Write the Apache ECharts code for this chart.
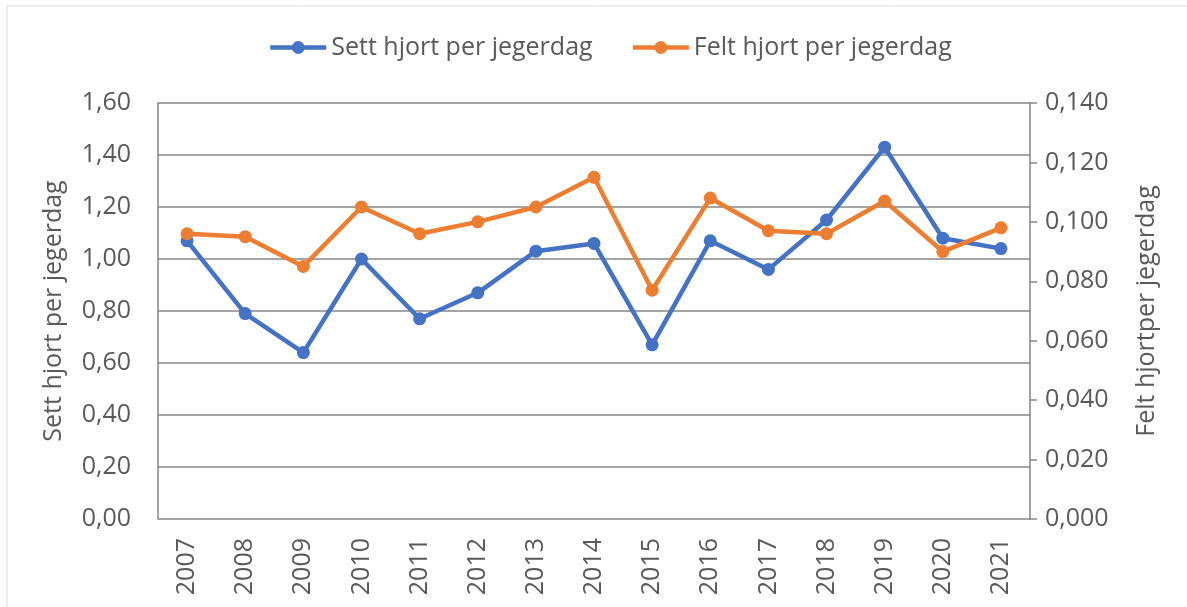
<!DOCTYPE html>
<html>
<head>
<meta charset="utf-8">
<script src="https://cdn.jsdelivr.net/npm/echarts@6/dist/echarts.min.js"></script>
<style>
  html, body { margin: 0; padding: 0; background: #fff; }
  #chart { width: 1187px; height: 607px; }
</style>
</head>
<body>
<div id="chart"></div>
<script>
  // år
  const years = ['2007', '2008', '2009', '2010', '2011', '2012', '2013', '2014', '2015', '2016', '2017', '2018', '2019', '2020', '2021']
  // sett hjort per jegerdag (venstre akse)
  const settHjort = [1.07, 0.79, 0.64, 1.00, 0.77, 0.87, 1.03, 1.06, 0.67, 1.07, 0.96, 1.15, 1.43, 1.08, 1.04]
  // felt hjort per jegerdag (høyre akse)
  const feltHjort = [0.096, 0.095, 0.085, 0.105, 0.096, 0.100, 0.105, 0.115, 0.077, 0.108, 0.097, 0.096, 0.107, 0.090, 0.098]

  const fontFam = '"Open Sans", sans-serif'
  const txt = '#595959'

  const myChart = echarts.init(document.getElementById('chart'))
  myChart.setOption({
    animation: false,
    textStyle: { fontFamily: fontFam, color: txt },
    graphic: [{
      type: 'rect',
      shape: { x: 7, y: 6, width: 1300, height: 700 },
      style: { fill: 'none', stroke: '#d9d9d9', lineWidth: 1 },
      z: -10, silent: true
    }],
    legend: {
      top: 30,
      left: 263,
      itemWidth: 56,
      itemHeight: 16,
      itemGap: 38,
      lineStyle: { width: 4.5 },
      textStyle: { fontSize: 25, color: txt, fontFamily: fontFam }
    },
    grid: { left: 158, right: 157, top: 103, bottom: 88 },
    xAxis: {
      type: 'category',
      data: years,
      axisTick: { show: false },
      axisLine: { show: false },
      axisLabel: { rotate: 90, fontSize: 25, color: txt, margin: 19 }
    },
    yAxis: [
      {
        type: 'value',
        min: 0, max: 1.6, interval: 0.2,
        name: 'Sett hjort per jegerdag',
        nameLocation: 'middle',
        nameRotate: 90,
        nameGap: 92,
        nameTextStyle: { fontSize: 25, color: txt },
        axisLine: { show: true, lineStyle: { color: '#868686', width: 1.5 } },
        axisTick: { show: false },
        splitLine: { lineStyle: { color: '#868686', width: 1.5 } },
        axisLabel: { fontSize: 25, color: txt, margin: 27, formatter: v => v.toFixed(2).replace('.', ',') }
      },
      {
        type: 'value',
        position: 'right',
        min: 0, max: 0.14, interval: 0.02,
        name: 'Felt hjortper jegerdag',
        nameLocation: 'middle',
        nameRotate: 90,
        nameGap: 104,
        nameTextStyle: { fontSize: 25, color: txt },
        axisLine: { show: true, lineStyle: { color: '#868686', width: 1.5 } },
        axisTick: { show: true, length: 7, lineStyle: { color: '#868686', width: 1.5 } },
        splitLine: { show: false },
        axisLabel: { fontSize: 25, color: txt, margin: 15, formatter: v => v.toFixed(3).replace('.', ',') }
      }
    ],
    series: [
      {
        name: 'Sett hjort per jegerdag',
        type: 'line',
        yAxisIndex: 0,
        data: settHjort,
        symbol: 'circle',
        symbolSize: 13,
        itemStyle: { color: '#4472C4' },
        lineStyle: { color: '#4472C4', width: 4.5 }
      },
      {
        name: 'Felt hjort per jegerdag',
        type: 'line',
        yAxisIndex: 1,
        data: feltHjort,
        symbol: 'circle',
        symbolSize: 13,
        itemStyle: { color: '#ED7D31' },
        lineStyle: { color: '#ED7D31', width: 4.5 }
      }
    ]
  })
</script>
</body>
</html>
